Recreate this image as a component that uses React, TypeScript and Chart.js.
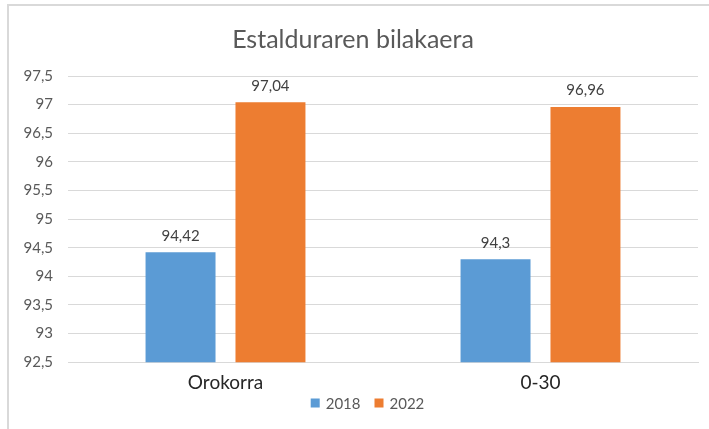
import React, { useEffect, useRef } from "react";
import { Chart, registerables } from "chart.js";

Chart.register(...registerables);

const categories = ["Orokorra", "0-30"];
const series2018 = [94.42, 94.3];
const series2022 = [97.04, 96.96];
const seriesNames = ["2018", "2022"];
const seriesColors = ["#5B9BD5", "#ED7D31"];
const yMin = 92.5;
const yMax = 97.5;
const yStep = 0.5;

const fmt = (v: number) => String(v).replace(".", ",");

const dataLabelPlugin = {
  id: "dataLabels",
  afterDatasetsDraw(chart: any) {
    const ctx = chart.ctx;
    ctx.save();
    ctx.font = "15px Lato";
    ctx.fillStyle = "#404040";
    ctx.textAlign = "center";
    ctx.textBaseline = "bottom";
    chart.data.datasets.forEach((ds: any, i: number) => {
      const meta = chart.getDatasetMeta(i);
      meta.data.forEach((bar: any, j: number) => {
        ctx.fillText(fmt(ds.data[j]), bar.x, bar.y - 9);
      });
    });
    ctx.restore();
  },
};

const customLegendPlugin = {
  id: "customLegend",
  afterDraw(chart: any) {
    const ctx = chart.ctx;
    ctx.save();
    ctx.font = "15px Lato";
    ctx.textBaseline = "middle";
    ctx.textAlign = "left";
    const box = 9;
    const gapBoxText = 6;
    const gapItems = 14;
    const widths = chart.data.datasets.map(
      (ds: any) => box + gapBoxText + ctx.measureText(ds.label).width
    );
    const total = widths.reduce((a: number, b: number) => a + b, 0) + gapItems * (widths.length - 1);
    const cx = chart.width / 2 + 13;
    const cy = chart.height - 26;
    let x = cx - total / 2;
    chart.data.datasets.forEach((ds: any, i: number) => {
      ctx.fillStyle = ds.backgroundColor;
      ctx.fillRect(x, cy - box / 2, box, box);
      ctx.fillStyle = "#595959";
      ctx.fillText(ds.label, x + box + gapBoxText, cy + 1);
      x += widths[i] + gapItems;
    });
    ctx.restore();
  },
};

export default function App() {
  const ref = useRef<HTMLCanvasElement>(null);
  useEffect(() => {
    if (!ref.current) return;
    const chart = new Chart(ref.current, {
      type: "bar",
      data: {
        labels: categories,
        datasets: [
          {
            label: seriesNames[0],
            data: series2018,
            backgroundColor: seriesColors[0],
            categoryPercentage: 0.571,
            barPercentage: 0.778,
          },
          {
            label: seriesNames[1],
            data: series2022,
            backgroundColor: seriesColors[1],
            categoryPercentage: 0.571,
            barPercentage: 0.778,
          },
        ],
      },
      options: {
        responsive: false,
        animation: false,
        layout: { padding: { left: 8, right: 11, top: 0, bottom: 34 } },
        plugins: {
          title: {
            display: true,
            text: "Estalduraren bilakaera",
            color: "#595959",
            font: { family: "Lato", size: 25, weight: "normal" },
            padding: { top: 25, bottom: 21 },
          },
          legend: { display: false },
          tooltip: { enabled: false },
        },
        scales: {
          x: {
            grid: { display: false },
            border: { color: "#d9d9d9" },
            ticks: {
              color: "#262626",
              font: { family: "Lato", size: 19 },
              padding: 1,
            },
          },
          y: {
            min: yMin,
            max: yMax,
            grid: { color: "#d9d9d9", drawTicks: false },
            border: { display: false },
            ticks: {
              stepSize: yStep,
              color: "#595959",
              font: { family: "Lato", size: 15 },
              padding: 15,
              callback: (v: any) => fmt(Number(v)),
            },
            afterFit: (scale: any) => {
              scale.width = 60;
            },
          },
        },
      },
      plugins: [dataLabelPlugin, customLegendPlugin],
    });
    return () => chart.destroy();
  }, []);
  return (
    <div style={{ position: "fixed", left: 0, top: 0, width: 709, height: 429, background: "#fff" }}>
      <div
        style={{
          position: "absolute",
          left: 7,
          top: 4,
          width: 720,
          height: 440,
          borderLeft: "2px solid #d9d9d9",
          borderTop: "2px solid #d9d9d9",
        }}
      />
      <canvas ref={ref} width={709} height={429} style={{ position: "absolute", left: 0, top: 0 }} />
    </div>
  );
}
